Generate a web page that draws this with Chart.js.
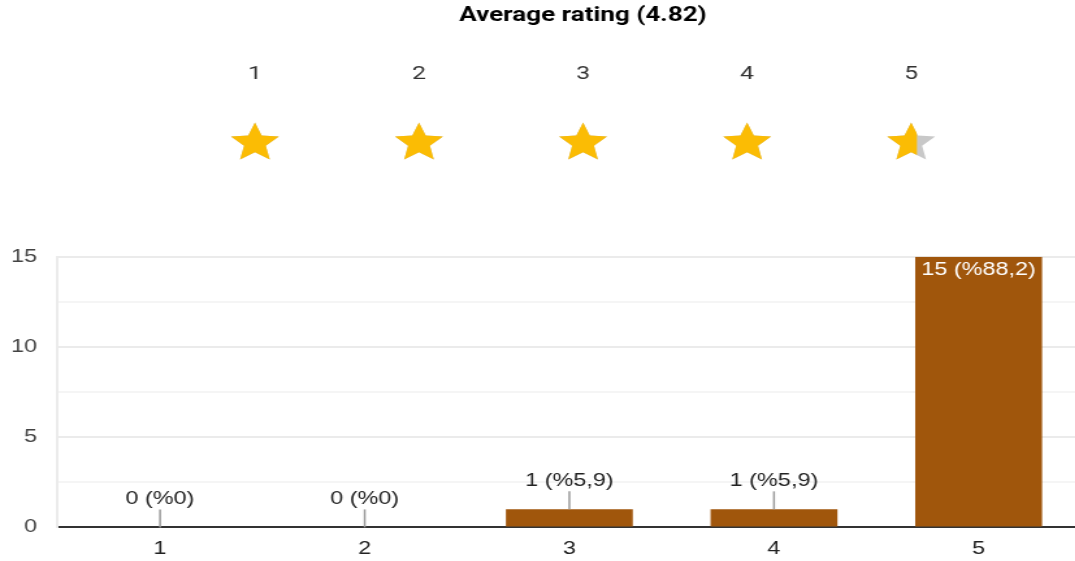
<!DOCTYPE html>
<html>
<head>
<meta charset="utf-8">
<script src="https://cdn.jsdelivr.net/npm/chart.js@4.4.1/dist/chart.umd.min.js"></script>
<style>
html,body{margin:0;padding:0;background:#fff;width:1075px;height:561px;overflow:hidden;position:relative;}
#head{position:absolute;left:0;top:0;width:827px;height:200px;transform:scaleX(1.3);transform-origin:0 0;}
#main{position:absolute;left:0;top:230px;width:835px;height:341px;transform:scaleX(1.3);transform-origin:0 0;}
</style>
</head>
<body>
<div id="head"><canvas id="hc"></canvas></div>
<div id="main"><canvas id="mc"></canvas></div>
<script>
const categories = ['1', '2', '3', '4', '5'];
const counts = [0, 0, 1, 1, 15];
const yTicks = [0, 5, 10, 15];
const titleText = 'Average rating (4.82)';
const starFill = [1, 1, 1, 1, 0.62];

const total = counts.reduce((a, b) => a + b, 0);
function pctLabel(v) {
  const p = Math.round(v / total * 1000) / 10;
  return v + ' (%' + String(p).replace('.', ',') + ')';
}

const BAR = '#a0560c';
const STAR = '#fbbc04';
const STAR_GREY = '#c8c8c8';

function starPath(ctx, cx, cy, sx, sy) {
  const pts = [[12,17.27],[18.18,21],[16.54,13.97],[22,9.24],[14.81,8.63],[12,2],[9.19,8.63],[2,9.24],[7.46,13.97],[5.82,21]];
  ctx.beginPath();
  pts.forEach((p, i) => {
    const x = cx + (p[0] - 12) * sx, y = cy + (p[1] - 11.5) * sy;
    if (i === 0) ctx.moveTo(x, y); else ctx.lineTo(x, y);
  });
  ctx.closePath();
}

const headerPlugin = {
  id: 'stars',
  afterDraw(chart) {
    const ctx = chart.ctx;
    const xs = chart.scales.x;
    ctx.save();
    categories.forEach((c, i) => {
      const x = xs.getPixelForValue(i + 1);
      ctx.fillStyle = '#333';
      ctx.font = '19px Roboto';
      ctx.textAlign = 'center';
      ctx.textBaseline = 'middle';
      ctx.fillText(c, x, 74);
      const sx = 1.85, sy = 1.95, cy = 141;
      const left = x - 10 * sx, w = 20 * sx;
      starPath(ctx, x, cy, sx, sy);
      ctx.fillStyle = STAR_GREY;
      ctx.fill();
      ctx.save();
      ctx.beginPath();
      ctx.rect(left, cy - 40, w * starFill[i], 80);
      ctx.clip();
      starPath(ctx, x, cy, sx, sy);
      ctx.fillStyle = STAR;
      ctx.fill();
      ctx.restore();
    });
    ctx.restore();
  }
};

new Chart(document.getElementById('hc'), {
  type: 'scatter',
  data: { datasets: [{ data: categories.map((c, i) => ({x: i + 1, y: 0})), pointRadius: 0 }] },
  options: {
    responsive: true, maintainAspectRatio: false, animation: false,
    layout: { padding: { left: 133, right: 63, top: 4, bottom: 0 } },
    plugins: {
      legend: { display: false }, tooltip: { enabled: false },
      title: { display: true, text: titleText, color: '#000', font: { family: 'Roboto', size: 20, weight: 'bold' }, padding: { top: 0, bottom: 0 } }
    },
    scales: {
      x: { type: 'linear', min: 0.5, max: 5.5, display: false },
      y: { display: false, min: -1, max: 1 }
    }
  },
  plugins: [headerPlugin]
});

const labelPlugin = {
  id: 'barLabels',
  afterDatasetsDraw(chart) {
    const ctx = chart.ctx;
    const meta = chart.getDatasetMeta(0);
    ctx.save();
    ctx.font = '18px "Liberation Sans", Arial';
    ctx.textAlign = 'center';
    meta.data.forEach((bar, i) => {
      const v = counts[i];
      const txt = pctLabel(v);
      if (v >= 5) {
        ctx.fillStyle = '#ffffff';
        ctx.textBaseline = 'middle';
        ctx.fillText(txt, bar.x, bar.y + 13);
      } else {
        ctx.strokeStyle = '#999';
        ctx.lineWidth = 1.5;
        ctx.beginPath();
        ctx.moveTo(bar.x, bar.y);
        ctx.lineTo(bar.x, bar.y - 18);
        ctx.stroke();
        ctx.fillStyle = '#222';
        ctx.textBaseline = 'middle';
        ctx.fillText(txt, bar.x, bar.y - 28);
      }
    });
    ctx.restore();
  }
};

new Chart(document.getElementById('mc'), {
  type: 'bar',
  data: {
    labels: categories,
    datasets: [{ data: counts, backgroundColor: BAR, categoryPercentage: 1, barPercentage: 0.62 }]
  },
  options: {
    responsive: true, maintainAspectRatio: false, animation: false,
    layout: { padding: { left: 0, right: 3.5, top: 17, bottom: 0 } },
    plugins: { legend: { display: false }, tooltip: { enabled: false } },
    scales: {
      x: {
        grid: { display: false, drawTicks: false },
        border: { color: '#333', width: 2 },
        ticks: { color: '#222', padding: 11, font: { family: '"Liberation Sans"', size: 18 } }
      },
      y: {
        min: 0, max: 15,
        afterFit(axis) { axis.width = 44.4; },
        afterBuildTicks(axis) {
          const t = [];
          for (let v = 0; v <= 15; v += 2.5) t.push({ value: v });
          axis.ticks = t;
        },
        grid: {
          drawTicks: false,
          color: (c) => (c.tick && c.tick.value % 5 === 0) ? '#ebebeb' : '#f5f5f5',
          lineWidth: 2
        },
        border: { display: true, color: '#ebebeb', width: 2 },
        ticks: {
          color: '#444', padding: 16,
          font: { family: '"Liberation Sans"', size: 18 },
          callback: (v) => yTicks.includes(v) ? String(v) : ''
        }
      }
    }
  },
  plugins: [labelPlugin]
});
</script>
</body>
</html>
